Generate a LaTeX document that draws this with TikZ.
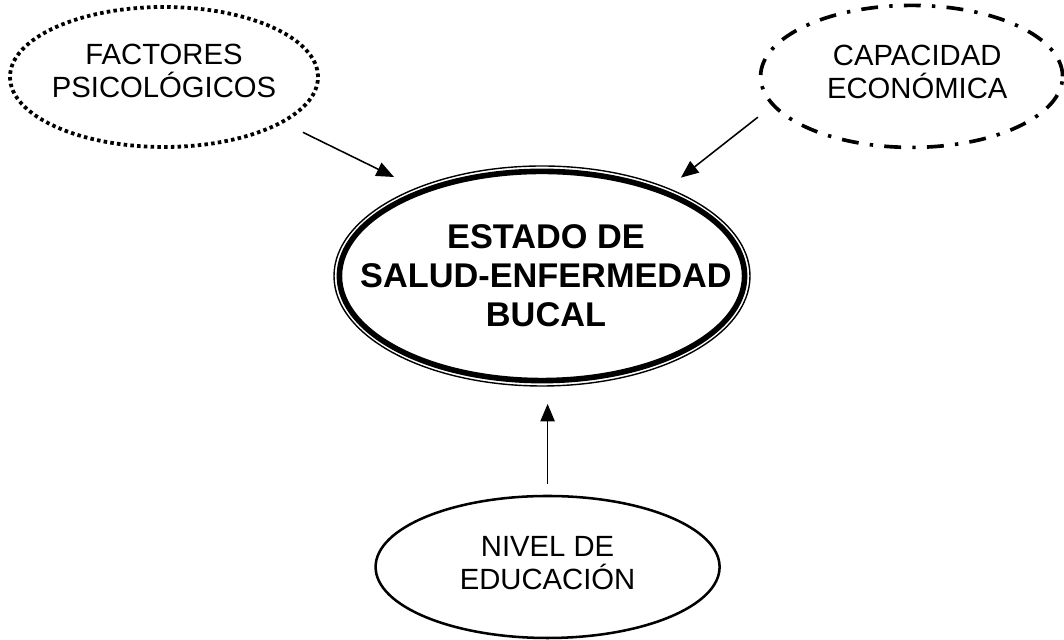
\documentclass[tikz,border=0pt]{standalone}
\usepackage{fontspec}
\setmainfont{Liberation Sans}
\usetikzlibrary{shapes.geometric, arrows.meta, positioning, calc}

\begin{document}
\begin{tikzpicture}[
  smalltext/.style={font=\fontsize{20.8}{23.5}\selectfont, align=center},
  bigtext/.style={font=\fontsize{24.4}{27.7}\selectfont\bfseries, align=center},
  link/.style={-{Triangle[length=0.44cm, width=0.36cm]}, line width=1.1pt}
]
  \useasboundingbox (0,0) rectangle (26.6,16);

  % Central state
  \node[ellipse, draw, line width=1pt, minimum width=10.4cm, minimum height=5.5cm,
    label={[bigtext, xshift=0.1cm]center:ESTADO DE\\SALUD-ENFERMEDAD\\BUCAL}] (estado) at (13.55, 9.1) {};
  \draw[line width=4pt] (estado.center) ellipse (5.065cm and 2.615cm);

  % Factors
  \node[ellipse, draw, line width=2.7pt, dash pattern=on 2.5pt off 2.3pt, minimum width=7.7cm, minimum height=3.5cm,
    label={[smalltext, yshift=0.16cm]center:FACTORES\\PSICOLÓGICOS}] (psico) at (4.1, 14.075) {};
  \node[ellipse, draw, line width=2.6pt, dash pattern=on 12pt off 8pt on 2.4pt off 8pt, minimum width=7.55cm, minimum height=3.55cm,
    label={[smalltext, xshift=0.14cm, yshift=0.11cm]center:CAPACIDAD\\ECONÓMICA}] (capac) at (22.79, 14.09) {};
  \node[ellipse, draw, line width=1.8pt, minimum width=8.6cm, minimum height=3.55cm,
    label={[smalltext, yshift=0.09cm]center:NIVEL DE\\EDUCACIÓN}] (nivel) at (13.69, 1.825) {};

  % Arrows
  \draw[link, shorten <=0.53cm, shorten >=0.61cm] (psico.-21.3) -- (estado.145.35);
  \draw[link, shorten <=0.45cm, shorten >=0.41cm] (capac.192.3) -- (estado.35.5);
  \draw[link, shorten <=0.28cm, shorten >=0.43cm] (nivel.north) -- (nivel.north |- estado.south);
\end{tikzpicture}
\end{document}
